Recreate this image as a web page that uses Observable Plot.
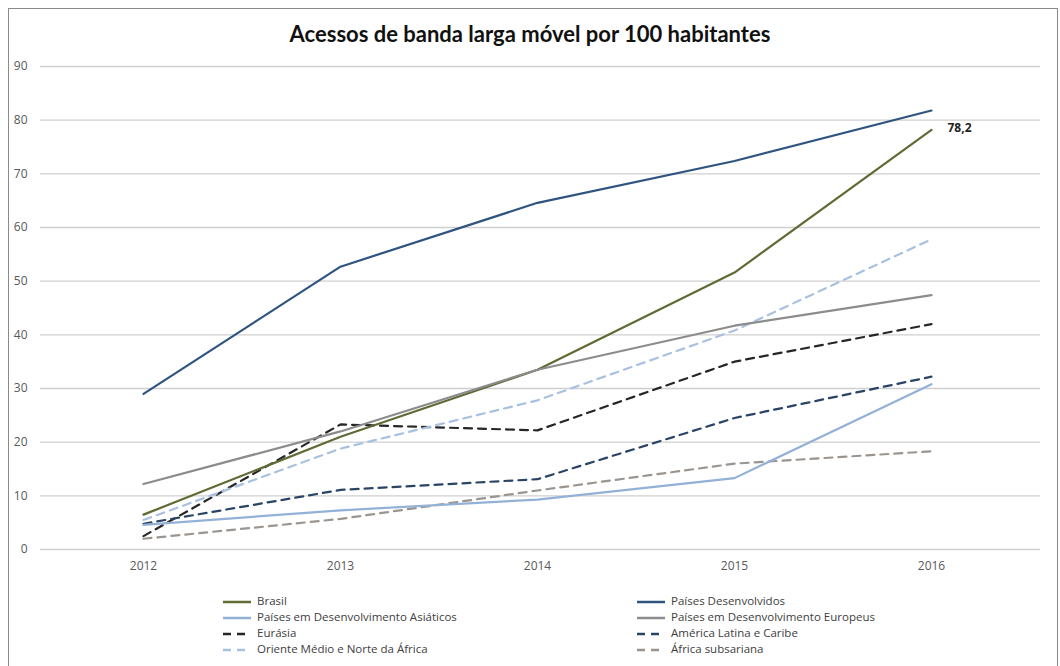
<!DOCTYPE html>
<html>
<head>
<meta charset="utf-8">
<script src="https://cdn.jsdelivr.net/npm/d3@7"></script>
<script src="https://cdn.jsdelivr.net/npm/@observablehq/plot@0.6"></script>
<style>
  html, body { margin: 0; padding: 0; background: #fff; }
  #frame { position: absolute; left: 8px; top: 8px; width: 1050px; height: 700px;
           border-left: 1px solid #8a8a8a; border-top: 1px solid #8a8a8a; border-right: 1px solid #8a8a8a; box-sizing: border-box; }
  #title { position: absolute; left: 0; top: 20px; width: 1060px; text-align: center;
           font-family: Lato, "Open Sans", sans-serif; font-weight: bold; font-size: 22px; color: #111; }
  #chart { position: absolute; left: 0; top: 56px; }
  .leg { position: absolute; font-family: "Open Sans", sans-serif; font-size: 11.5px; color: #404040; line-height: 16px; white-space: nowrap; }
  .leg svg { vertical-align: middle; margin-right: 5px; }
</style>
</head>
<body>
<div id="frame"></div>
<div id="title">Acessos de banda larga móvel por 100 habitantes</div>
<div id="chart"></div>
<div id="legend"></div>
<script>
const years = [2012, 2013, 2014, 2015, 2016];
const seriesNames = [
  "Brasil",
  "Países Desenvolvidos",
  "Países em Desenvolvimento Asiáticos",
  "Países em Desenvolvimento Europeus",
  "Eurásia",
  "América Latina e Caribe",
  "Oriente Médio e Norte da África",
  "África subsariana"
];
const brasil        = [6.5, 21.0, 33.5, 51.6, 78.2];
const desenvolvidos = [29.0, 52.7, 64.6, 72.4, 81.8];
const asiaticos     = [4.6, 7.3, 9.3, 13.3, 30.8];
const europeus      = [12.2, 22.0, 33.5, 41.7, 47.4];
const eurasia       = [2.5, 23.3, 22.2, 35.0, 42.0];
const americaLatina = [4.8, 11.1, 13.1, 24.5, 32.2];
const orienteMedio  = [5.5, 18.8, 27.8, 40.8, 57.8];
const africa        = [2.0, 5.7, 11.0, 16.0, 18.3];
const yTicks = [0, 10, 20, 30, 40, 50, 60, 70, 80, 90];
const highlightLabel = "78,2";

const seriesValues = [brasil, desenvolvidos, asiaticos, europeus, eurasia, americaLatina, orienteMedio, africa];
const seriesColors = ["#5f6b35", "#2f5480", "#93b1d6", "#8c8c8c", "#262626", "#2a4466", "#a9c1e0", "#9a9590"];
const dashedSeries = ["Eurásia", "América Latina e Caribe", "Oriente Médio e Norte da África", "África subsariana"];

const rows = [];
seriesNames.forEach((s, i) => years.forEach((yr, j) => rows.push({series: s, year: yr, value: seriesValues[i][j]})));

const chart = Plot.plot({
  width: 1060,
  height: 530,
  marginLeft: 40,
  marginRight: 20,
  marginTop: 10,
  marginBottom: 37,
  x: {type: "point", domain: years, range: [142, 931], padding: 0, label: null},
  y: {domain: [0, 90], label: null},
  color: {domain: seriesNames, range: seriesColors},
  style: {fontFamily: "'Open Sans', sans-serif", fontSize: "12px", color: "#595959", background: "transparent"},
  marks: [
    Plot.ruleY(yTicks, {stroke: "#cfcfcf", strokeWidth: 1.3}),
    Plot.axisY(yTicks, {tickSize: 0, tickPadding: 13, fontSize: 12, fill: "#595959"}),
    Plot.axisX(years, {tickSize: 0, tickPadding: 12, fontSize: 12, fill: "#595959", tickFormat: d => String(d)}),
    Plot.line(rows.filter(d => dashedSeries.includes(d.series)), {x: "year", y: "value", z: "series", stroke: "series", strokeWidth: 2.2, strokeDasharray: "8,6"}),
    Plot.line(rows.filter(d => !dashedSeries.includes(d.series)), {x: "year", y: "value", z: "series", stroke: "series", strokeWidth: 2.2}),
    Plot.text(rows.filter(d => d.series === "Brasil" && d.year === 2016), {x: "year", y: "value", text: () => highlightLabel, dx: 16, dy: -2, textAnchor: "start", fontWeight: "bold", fontSize: 12, fill: "#222"})
  ]
});
document.getElementById("chart").appendChild(chart);

// legend
const legendPos = [
  [222, 601], [636, 601],
  [222, 617], [636, 617],
  [222, 633], [636, 633],
  [222, 649], [636, 649]
];
const legend = document.getElementById("legend");
seriesNames.forEach((s, i) => {
  const div = document.createElement("div");
  div.className = "leg";
  div.style.left = legendPos[i][0] + "px";
  div.style.top = (legendPos[i][1] - 8) + "px";
  const dashed = dashedSeries.includes(s);
  div.innerHTML = `<svg width="30" height="10"><line x1="1" x2="29" y1="5" y2="5" stroke="${seriesColors[i]}" stroke-width="2.5" ${dashed ? 'stroke-dasharray="8,6"' : ''}/></svg>` + s;
  legend.appendChild(div);
});
</script>
</body>
</html>
